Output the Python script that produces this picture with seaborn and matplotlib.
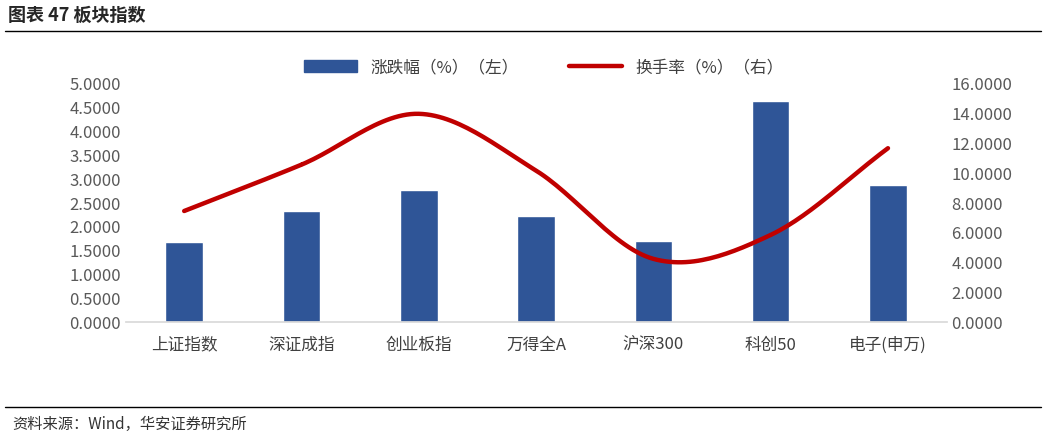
import numpy as np
import pandas as pd
import matplotlib
matplotlib.use("Agg")
import matplotlib.pyplot as plt
import seaborn as sns

categories = ["上证指数", "深证成指", "创业板指", "万得全A", "沪深300", "科创50", "电子(申万)"]
change_pct = [1.66, 2.32, 2.75, 2.20, 1.68, 4.62, 2.85]
turnover_pct = [7.4, 10.5, 13.9, 10.1, 4.2, 5.8, 11.6]

sns.set_theme(style="white")
plt.rcParams['font.family'] = ['Noto Sans CJK SC', 'DejaVu Sans']

fig = plt.figure(figsize=(10.46, 4.39), dpi=100)
ax = fig.add_axes([0.120, 0.265, 0.785, 0.545])
df = pd.DataFrame({"cat": categories, "v": change_pct})
sns.barplot(data=df, x="cat", y="v", ax=ax, color="#2F5597", width=0.32, saturation=1)
ax.set_ylim(0, 5)
ax.set_yticks(np.arange(0, 5.01, 0.5))
ax.set_yticklabels([f"{v:.4f}" for v in np.arange(0, 5.01, 0.5)], fontsize=12, color="#595959")
ax.set_xlabel(""); ax.set_ylabel("")
ax.tick_params(axis='x', labelsize=12, colors="#404040", length=0, pad=10)
ax.tick_params(axis='y', length=0)
for s in ["top", "right", "left"]:
    ax.spines[s].set_visible(False)
ax.spines["bottom"].set_color("#D9D9D9")

ax2 = ax.twinx()
x = np.arange(len(turnover_pct), dtype=float)
y = np.array(turnover_pct, dtype=float)
# Catmull-Rom smoothing
P = np.concatenate([[2*y[0]-y[1]], y, [2*y[-1]-y[-2]]])
X = np.concatenate([[x[0]-1], x, [x[-1]+1]])
xs, ys = [], []
t = np.linspace(0, 1, 30)
for i in range(1, len(P)-2):
    for arr, out in ((X, xs), (P, ys)):
        p0, p1, p2, p3 = arr[i-1:i+3]
        out.extend(0.5*((2*p1) + (-p0+p2)*t + (2*p0-5*p1+4*p2-p3)*t**2 + (-p0+3*p1-3*p2+p3)*t**3))
ax2.plot(xs, ys, color="#C00000", lw=3.2)
ax2.set_ylim(0, 16)
ax2.set_yticks(np.arange(0, 16.01, 2))
ax2.set_yticklabels([f"{v:.4f}" for v in np.arange(0, 16.01, 2)], fontsize=12, color="#595959")
ax2.tick_params(axis='y', length=0)
for s in ["top", "right", "left", "bottom"]:
    ax2.spines[s].set_visible(False)
ax.set_xlim(-0.5, 6.5)

from matplotlib.patches import Patch
from matplotlib.lines import Line2D
h = [Patch(color="#2F5597"), Line2D([], [], color="#C00000", lw=3.2)]
fig.legend(h, ["涨跌幅（%）（左）", "换手率（%）（右）"], loc="center", bbox_to_anchor=(0.52, 0.845),
           ncol=2, frameon=False, fontsize=12, handlelength=3.2, columnspacing=3, labelcolor="#404040")

fig.text(0.008, 0.965, "图表 47 板块指数", fontsize=13, fontweight="bold", va="center")
fig.add_artist(plt.Line2D([0.005, 0.995], [0.927, 0.927], color="black", lw=1))
fig.add_artist(plt.Line2D([0.005, 0.995], [0.07, 0.07], color="black", lw=1))
fig.text(0.012, 0.033, "资料来源：Wind，华安证券研究所", fontsize=11, va="center", color="#333333")
fig.savefig("out.png", dpi=100)
